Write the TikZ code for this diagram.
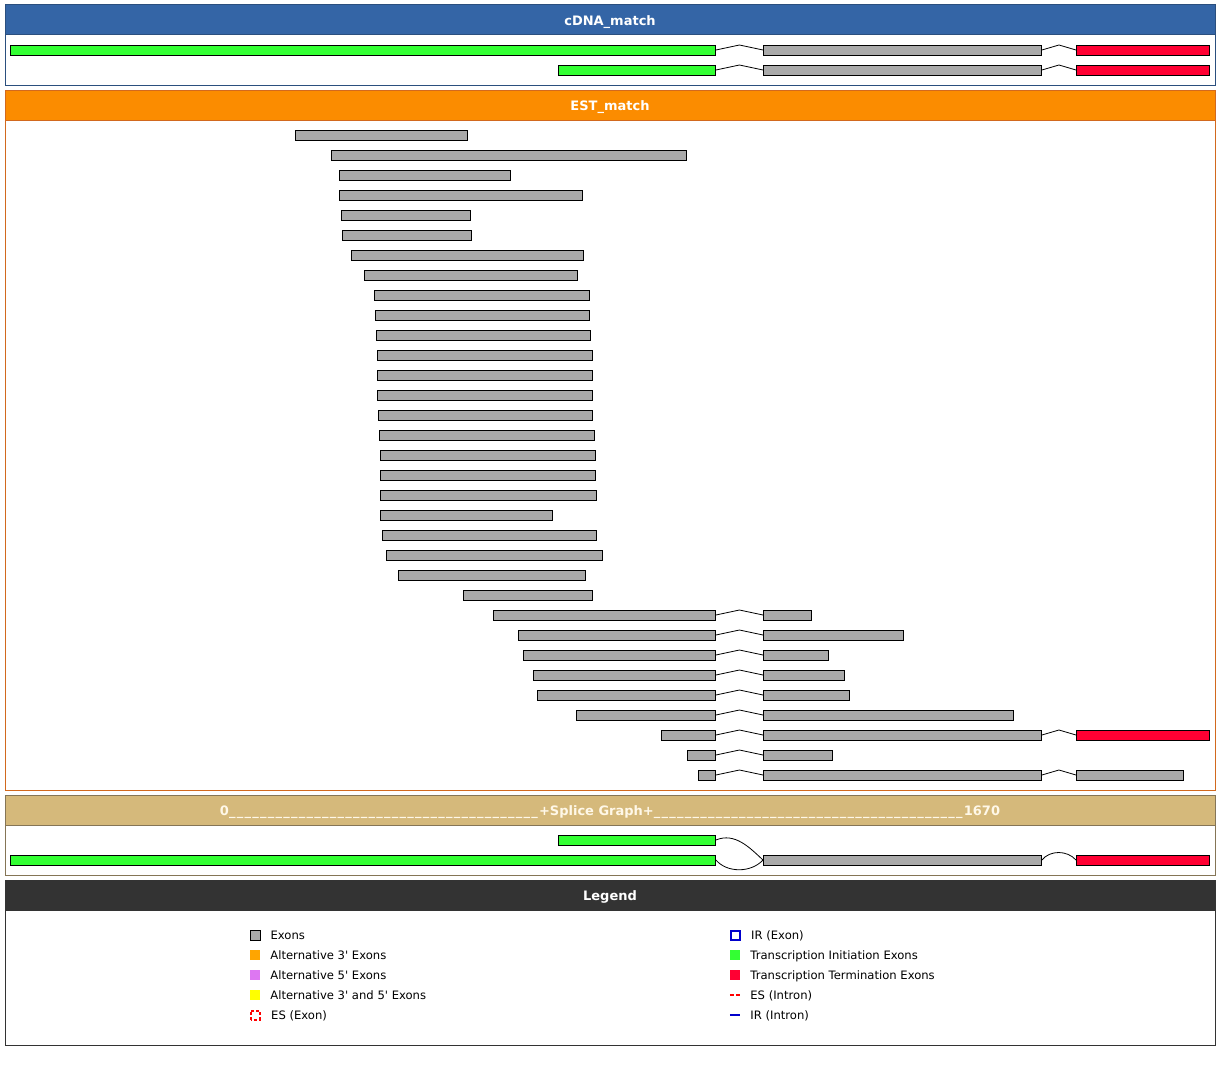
\documentclass[tikz,border=0pt]{standalone}
\usepackage{fontspec}
\setmainfont{DejaVu Sans}
\usetikzlibrary{positioning,calc}

\definecolor{cdnahead}{HTML}{3465A6}
\definecolor{cdnaline}{HTML}{2B4F7E}
\definecolor{esthead}{HTML}{FB8C00}
\definecolor{estline}{HTML}{D2691E}
\definecolor{splicehead}{HTML}{D5B97B}
\definecolor{spliceline}{HTML}{857556}
\definecolor{splicetext}{HTML}{FFF8E8}
\definecolor{leghead}{HTML}{333333}
\definecolor{exgray}{HTML}{AAAAAA}
\definecolor{exgreen}{HTML}{33FF33}
\definecolor{exred}{HTML}{FF0033}
\definecolor{altorange}{HTML}{FFA500}
\definecolor{altviolet}{HTML}{DD77F2}
\definecolor{altyellow}{HTML}{FFFF00}
\definecolor{irblue}{HTML}{0000CC}

\newcommand\dashrun{\foreach \k in {1,...,40}{\_\kern1.25pt}}

\begin{document}
\begin{tikzpicture}[x=1pt,y=-1pt]
\tikzstyle{panel}=[draw,fill=white,line width=1pt,minimum width=1210pt,inner sep=0]
\tikzstyle{head}=[panel,minimum height=30pt,text=white,text height=11pt,text depth=0pt,font=\bfseries\fontsize{13}{15}\selectfont]
\tikzstyle{exon}=[draw,fill=exgray,line width=0.9pt,inner sep=0,minimum height=10pt,anchor=west]
\tikzstyle{intron}=[line width=0.8pt,to path={-- ($(\tikztostart)!.5!(\tikztotarget)+(0,-5)$) -- (\tikztotarget)}]
\tikzstyle{key}=[minimum size=10pt,inner sep=0]
\tikzstyle{keytext}=[inner sep=0,text height=8pt,text depth=0pt,font=\fontsize{11.6}{13}\selectfont]

\useasboundingbox (0,0) rectangle (1220,1065);

% panels
\node[panel,draw=cdnaline,minimum height=80pt] (cdna) at (610,45) {};
\node[head,fill=cdnahead,draw=cdnaline] (cdnah) at (610,20) {cDNA\_match};
\node[panel,draw=estline,minimum height=700pt] (est) at (610,440) {};
\node[head,fill=esthead,draw=estline] (esth) at (610,105) {EST\_match};
\node[panel,draw=spliceline,minimum height=80pt] (splice) at (610,835) {};
\node[head,fill=splicehead,draw=spliceline,text=splicetext] (spliceh) at (610,810) {0\dashrun+Splice Graph+\dashrun1670};
\node[panel,draw=leghead,minimum height=165pt] (legend) at (610,962.5) {};
\node[head,fill=leghead,draw=leghead] (legendh) at (610,895) {Legend};

% cDNA_match
\node[exon,fill=exgreen,minimum width=705pt] (c1a) at (10,50) {};
\node[exon,minimum width=278pt] (c1b) at (763,50) {};
\node[exon,fill=exred,minimum width=133pt] (c1c) at (1076,50) {};
\node[exon,fill=exgreen,minimum width=157pt] (c2a) at (558,70) {};
\node[exon,minimum width=278pt] (c2b) at (763,70) {};
\node[exon,fill=exred,minimum width=133pt] (c2c) at (1076,70) {};
\draw[intron] (c1a.east) to (c1b.west)
(c1b.east) to (c1c.west)
(c2a.east) to (c2b.west)
(c2b.east) to (c2c.west);

% EST_match, one exon
\foreach \a/\b [count=\i] in {295/467,331/686,339/510,339/582,341/470,342/471,351/583,364/577,374/589,375/589,376/590,377/592,377/592,377/592,378/592,379/594,380/595,380/595,380/596,380/552,382/596,386/602,398/585,463/592}
  \node[exon,minimum width=\b-\a] (est\i) at (\a,115+20*\i) {};

% EST_match, spliced
\foreach \a/\b [count=\i from 25] in {493/811,518/903,523/828,533/844,537/849,576/1013,661/1041,687/832,698/1041}{
  \node[exon,minimum width=715-\a] (a\i) at (\a,115+20*\i) {};
  \node[exon,minimum width=\b-763] (b\i) at (763,115+20*\i) {};
  \draw[intron] (a\i.east) to (b\i.west);
}
\node[exon,fill=exred,minimum width=133pt] (c31) at (1076,735) {};
\node[exon,minimum width=107pt] (c33) at (1076,775) {};
\draw[intron] (b31.east) to (c31.west)
(b33.east) to (c33.west);

% splice graph
\node[exon,fill=exgreen,minimum width=157pt] (s1) at (558,840) {};
\node[exon,fill=exgreen,minimum width=705pt] (s2) at (10,860) {};
\node[exon,minimum width=278pt] (s3) at (763,860) {};
\node[exon,fill=exred,minimum width=133pt] (s4) at (1076,860) {};
\draw[line width=0.8pt] (s1.east) .. controls (735,832) and (750,848) .. (s3.west)
(s2.east) .. controls (727,873) and (751,873) .. (s3.west)
(s3.east) .. controls (1050,850) and (1067,850) .. (s4.west);

% legend
\node[key,draw,fill=exgray,line width=0.8pt] (k1) at (255,935) {};
\node[key,fill=altorange] (k2) at (255,955) {};
\node[key,fill=altviolet] (k3) at (255,975) {};
\node[key,fill=altyellow] (k4) at (255,995) {};
\node[key,draw=red,line width=2pt,dash pattern=on 3pt off 2pt,dash phase=1.5pt,minimum size=9pt] (k5) at (255,1015) {};
\node[key,draw=irblue,line width=2pt,minimum size=9pt] (k6) at (735,935) {};
\node[key,fill=exgreen] (k7) at (735,955) {};
\node[key,fill=exred] (k8) at (735,975) {};
\node[key,minimum height=2pt] (k9) at (735,995) {};
\node[key,minimum height=2pt] (k10) at (735,1015) {};
\draw[red,line width=1.5pt,dash pattern=on 4pt off 2pt] (k9.west) -- (k9.east);
\draw[irblue,line width=2pt] (k10.west) -- (k10.east);
\node[keytext,right=10pt of k1] (t1) {Exons};
\node[keytext,right=10pt of k2] (t2) {Alternative 3\textquotesingle\ Exons};
\node[keytext,right=10pt of k3] (t3) {Alternative 5\textquotesingle\ Exons};
\node[keytext,right=10pt of k4] (t4) {Alternative 3\textquotesingle\ and 5\textquotesingle\ Exons};
\node[keytext,right=10.5pt of k5] (t5) {ES (Exon)};
\node[keytext,right=10.5pt of k6] (t6) {IR (Exon)};
\node[keytext,right=10pt of k7] (t7) {Transcription Initiation Exons};
\node[keytext,right=10pt of k8] (t8) {Transcription Termination Exons};
\node[keytext,right=10pt of k9] (t9) {ES (Intron)};
\node[keytext,right=10pt of k10] (t10) {IR (Intron)};
\end{tikzpicture}
\end{document}
